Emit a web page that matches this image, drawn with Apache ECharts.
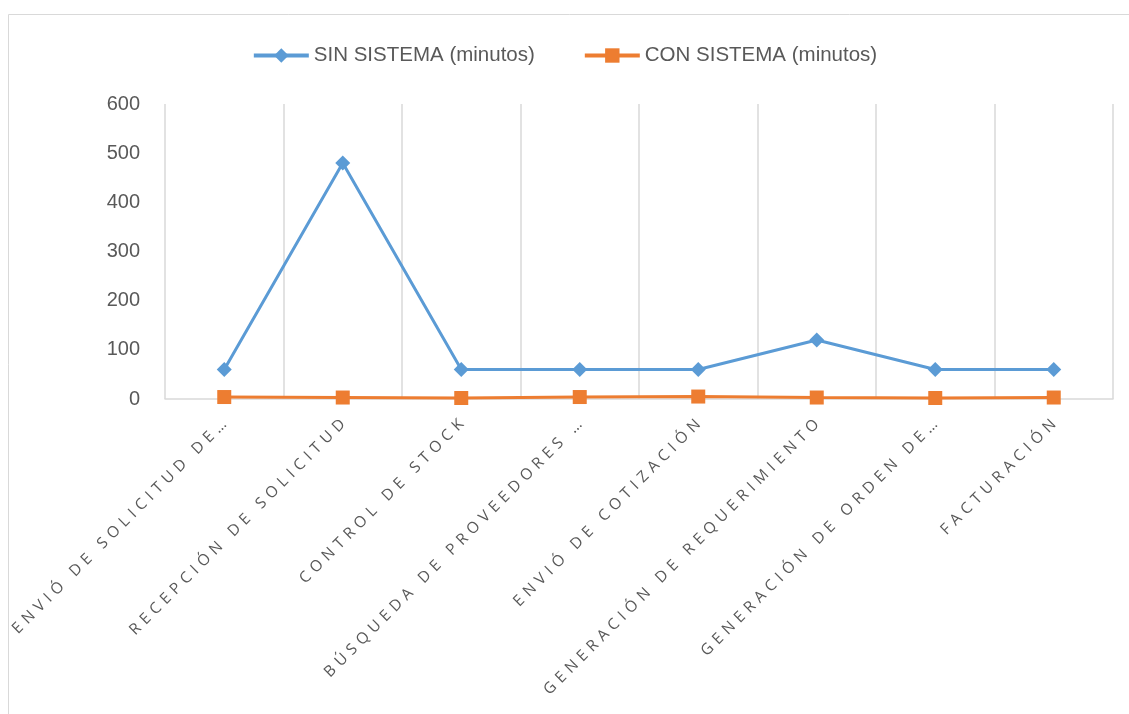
<!DOCTYPE html>
<html><head><meta charset="utf-8">
<script src="https://cdn.jsdelivr.net/npm/echarts@6/dist/echarts.min.js"></script>
<style>html,body{margin:0;padding:0;background:#fff}#c{width:1129px;height:714px}</style>
</head><body><div id="c"></div>
<script>
const categories = ["ENVIÓ DE SOLICITUD DE…", "RECEPCIÓN DE SOLICITUD", "CONTROL DE STOCK", "BÚSQUEDA DE PROVEEDORES …", "ENVIÓ DE COTIZACIÓN", "GENERACIÓN DE REQUERIMIENTO", "GENERACIÓN DE ORDEN DE…", "FACTURACIÓN"];
const sinSistema = [60, 480, 60, 60, 60, 120, 60, 60];
const conSistema = [4, 3, 2, 4, 5, 3, 2, 3];
const yTicks = [0, 100, 200, 300, 400, 500, 600];

const chart = echarts.init(document.getElementById('c'), null, {renderer: 'canvas'});
chart.setOption({
  animation: false,
  graphic: [{type: 'rect', shape: {x: 8.5, y: 14.5, width: 1300, height: 900}, style: {fill: 'none', stroke: '#d9d9d9', lineWidth: 1}, silent: true}],
  legend: {
    top: 40, left: 'center', itemWidth: 55, itemHeight: 18, itemGap: 48,
    lineStyle: {width: 4},
    textStyle: {fontFamily: 'Liberation Sans Narrow, Liberation Sans, sans-serif', fontSize: 20.5, color: '#595959', padding: [0, 0, 0, 0]},
    data: ['SIN SISTEMA (minutos)', 'CON SISTEMA (minutos)']
  },
  grid: {left: 165, right: 16, top: 104, bottom: 315, containLabel: false},
  xAxis: {
    type: 'category', data: categories, boundaryGap: true,
    axisLine: {lineStyle: {color: '#d9d9d9', width: 1.5}},
    axisTick: {show: false},
    splitLine: {show: true, lineStyle: {color: '#d9d9d9', width: 1.5}},
    axisLabel: {
      rotate: 45, interval: 0, margin: 23, color: '#595959', fontSize: 15.5, fontFamily: 'Open Sans, sans-serif',
      formatter: v => v.split('').join('\u2009\u2009')
    }
  },
  yAxis: {
    type: 'value', min: 0, max: 600, interval: 100,
    axisLine: {show: false}, axisTick: {show: false}, splitLine: {show: false},
    axisLabel: {margin: 25, color: '#595959', fontSize: 20, fontFamily: 'Liberation Sans Narrow, Liberation Sans, sans-serif',
      formatter: v => yTicks.includes(v) ? String(v) : ''}
  },
  series: [
    {name: 'SIN SISTEMA (minutos)', type: 'line', data: sinSistema, symbol: 'diamond', symbolSize: 15,
     lineStyle: {color: '#5b9bd5', width: 3}, itemStyle: {color: '#5b9bd5'}},
    {name: 'CON SISTEMA (minutos)', type: 'line', data: conSistema, symbol: 'rect', symbolSize: 14,
     lineStyle: {color: '#ed7d31', width: 3}, itemStyle: {color: '#ed7d31'}}
  ]
});
</script></body></html>
